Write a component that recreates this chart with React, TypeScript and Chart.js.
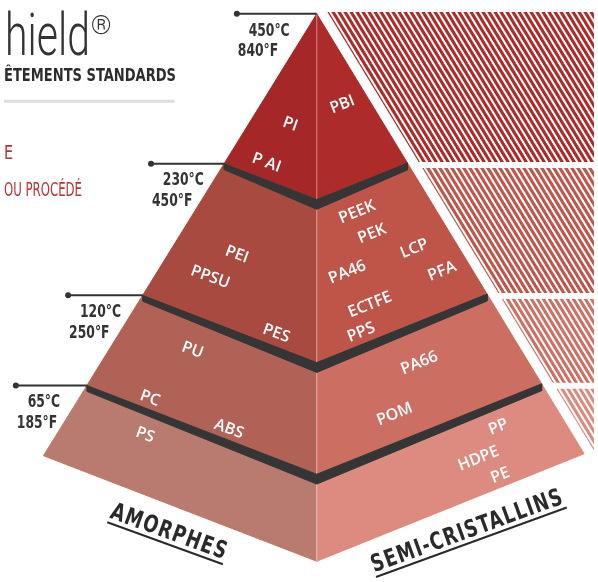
import React, { useEffect, useRef } from "react";
import { Chart, registerables } from "chart.js";
Chart.register(...registerables);

// ---------------- data ----------------
const tempC = ["450°C", "230°C", "120°C", "65°C"];
const tempF = ["840°F", "450°F", "250°F", "185°F"];
const families = ["AMORPHES", "SEMI-CRISTALLINS"];
const amorphes = [["PI", "P AI"], ["PEI", "PPSU", "PES"], ["PU", "PC", "ABS"], ["PS"]];
const semiCristallins = [
  ["PBI"],
  ["PEEK", "PEK", "LCP", "PA46", "PFA", "ECTFE", "PPS"],
  ["PA66", "POM"],
  ["PP", "HDPE", "PE"],
];
const titleWord = "hield";
const subtitle = "ÊTEMENTS STANDARDS";
const sideNotes = ["E", "OU PROCÉDÉ"];

// ---------------- layout ----------------
const TIER_TOP = [0, 0.339, 0.637, 0.841];
const APEX = { x: 317, y: 10 };
const BASE_L = { x: 40, y: 458 };
const BASE_C = { x: 317, y: 565 };
const BASE_R = { x: 588, y: 456 };
const MARKER_X = [236, 149, 65, 12];
const LABEL_POS: Record<string, [number, number]> = {
  PI: [290, 122], "P AI": [266, 161], PEI: [236, 254], PPSU: [209, 277], PES: [276, 334],
  PU: [191, 351], PC: [148, 400], ABS: [228, 431], PS: [143, 437],
  PBI: [343, 102], PEEK: [358, 211], PEK: [373, 233], LCP: [416, 248], PA46: [348, 272],
  PFA: [444, 271], ECTFE: [371, 305], PPS: [362, 333], PA66: [421, 364], POM: [396, 416],
  PP: [501, 429], HDPE: [481, 461], PE: [503, 478],
};
const LEFT_COLORS = ["#A52727", "#A94A40", "#B06256", "#B97A6F"];
const RIGHT_COLORS = ["#AD2B28", "#BF5448", "#CC6F62", "#DD8B80"];
const HATCH_COLORS = ["#AE2B29", "#C0564A", "#CE7064", "#DC8A7F"];
const DARK = "#353535";
const COND = "'Liberation Sans Narrow','DejaVu Sans Condensed',Roboto,sans-serif";

type P = { x: number; y: number };
const lerp = (a: P, b: P, t: number): P => ({ x: a.x + (b.x - a.x) * t, y: a.y + (b.y - a.y) * t });
const pL = (t: number) => lerp(APEX, BASE_L, t);
const pC = (t: number) => lerp(APEX, BASE_C, t);
const pR = (t: number) => lerp(APEX, BASE_R, t);
const down = (p: P, d: number): P => ({ x: p.x, y: p.y + d });

function drawText(ctx: CanvasRenderingContext2D, text: string, x: number, y: number, o: any) {
  ctx.save();
  ctx.font = o.font;
  ctx.fillStyle = o.color;
  ctx.textAlign = o.align || "center";
  ctx.textBaseline = o.baseline || "middle";
  if (o.spacing) (ctx as any).letterSpacing = o.spacing + "px";
  ctx.translate(x, y);
  if (o.angle) ctx.rotate((o.angle * Math.PI) / 180);
  const w = ctx.measureText(text).width;
  const s = o.width ? o.width / w : o.sx || 1;
  ctx.scale(s, 1);
  ctx.fillText(text, 0, 0);
  if (o.underline) {
    const x0 = ctx.textAlign === "center" ? -w / 2 : 0;
    ctx.fillRect(x0, o.underline[0], w, o.underline[1]);
  }
  ctx.restore();
}

export default function App() {
  const ref = useRef<HTMLCanvasElement>(null);
  useEffect(() => {
    document.body.style.margin = "0";
    // stripe tile, slanted parallel to the pyramid's right edge, seamless
    const TH = 79;
    const shift = 48; // multiple of the 6px period over TH rows
    const stripes = (color: string) => {
      const c = document.createElement("canvas");
      c.width = 6;
      c.height = TH;
      const g = c.getContext("2d")!;
      g.fillStyle = color;
      for (let j = -12; j <= 2; j++) {
        const x0 = j * 6;
        g.beginPath();
        g.moveTo(x0, 0);
        g.lineTo(x0 + 3.6, 0);
        g.lineTo(x0 + 3.6 + shift, TH);
        g.lineTo(x0 + shift, TH);
        g.closePath();
        g.fill();
      }
      return g.createPattern(c, "repeat")!;
    };
    const k = (BASE_R.x - APEX.x) / (BASE_R.y - APEX.y);

    const datasets: any[] = [];
    const poly = (pts: P[], color: any, border = true) =>
      datasets.push({
        type: "line",
        data: [...pts, pts[0]].map((p) => ({ x: p.x, y: p.y })),
        fill: "shape",
        backgroundColor: color,
        borderColor: border ? color : "rgba(0,0,0,0)",
        borderWidth: border ? 1 : 0,
        pointRadius: 0,
        tension: 0,
      });

    const levels = [...TIER_TOP, 1];
    // hatched bands to the right
    const gap = 12;
    const xOff = (y: number) => APEX.x + k * (y - APEX.y) + gap;
    for (let i = 0; i < 4; i++) {
      const yTop = i === 0 ? APEX.y - 2 : pR(levels[i]).y + 5;
      if (i < 3) {
        const yBot = pR(levels[i + 1]).y - 1;
        poly([{ x: xOff(yTop), y: yTop }, { x: 598, y: yTop }, { x: 598, y: yBot }, { x: xOff(yBot), y: yBot }], stripes(HATCH_COLORS[i]), false);
      } else {
        const yEnd = APEX.y + (598 - gap - APEX.x) / k;
        poly([{ x: xOff(yTop), y: yTop }, { x: 598, y: yTop }, { x: 598, y: yEnd }], stripes(HATCH_COLORS[i]), false);
      }
    }
    // pyramid faces
    for (let i = 0; i < 4; i++) {
      const t0 = levels[i], t1 = levels[i + 1];
      poly([pL(t0), pC(t0), pC(t1), pL(t1)], LEFT_COLORS[i]);
      poly([pC(t0), pR(t0), pR(t1), pC(t1)], RIGHT_COLORS[i]);
    }
    // central edge highlight
    datasets.push({
      type: "line",
      data: [{ x: APEX.x, y: APEX.y }, { x: BASE_C.x, y: BASE_C.y }],
      borderColor: "rgba(255,255,255,0.18)",
      borderWidth: 1,
      pointRadius: 0,
      fill: false,
    });
    // dark bands at the tier boundaries
    for (let i = 1; i < 4; i++) {
      const t = levels[i];
      poly([pL(t), pC(t), pR(t), down(pR(t), 7), down(pC(t), 10), down(pL(t), 6)], DARK);
    }
    // temperature markers
    for (let i = 0; i < 4; i++) {
      const p = pL(TIER_TOP[i]);
      datasets.push({
        type: "line",
        data: [{ x: MARKER_X[i], y: p.y }, { x: p.x, y: p.y }],
        borderColor: "#333",
        borderWidth: 2,
        pointRadius: [3, 0],
        pointBackgroundColor: "#333",
        pointBorderWidth: 0,
        fill: false,
      });
    }
    // grey rule under the title
    datasets.push({
      type: "line",
      data: [{ x: 0, y: 98.5 }, { x: 173, y: 98.5 }],
      borderColor: "#DEDEDE",
      borderWidth: 3,
      pointRadius: 0,
      fill: false,
    });
    datasets.forEach((d, i) => (d.order = -i));

    const textPlugin = {
      id: "texts",
      afterDatasetsDraw(chart: any) {
        const ctx = chart.ctx as CanvasRenderingContext2D;
        const X = (v: number) => chart.scales.x.getPixelForValue(v);
        const Y = (v: number) => chart.scales.y.getPixelForValue(v);
        // title fragments
        drawText(ctx, titleWord, X(1), Y(52), { font: "300 60px Roboto", color: "#333", align: "left", baseline: "alphabetic", width: 85 });
        drawText(ctx, "®", X(88), Y(30), { font: "300 26px Roboto", color: "#333", align: "left", baseline: "alphabetic" });
        drawText(ctx, subtitle, X(0), Y(78), { font: `bold 18px ${COND}`, color: "#2d2d2d", align: "left", baseline: "alphabetic", width: 172 });
        drawText(ctx, sideNotes[0], X(0), Y(157), { font: `20px ${COND}`, color: "#B83232", align: "left", baseline: "alphabetic", sx: 0.8 });
        drawText(ctx, sideNotes[1], X(0), Y(195), { font: `20px ${COND}`, color: "#B83232", align: "left", baseline: "alphabetic", width: 78 });
        // temperatures (condensed by a common factor)
        const tf = `bold 18px ${COND}`;
        ctx.save();
        ctx.font = tf;
        const sx = 41 / ctx.measureText(tempC[0]).width;
        ctx.restore();
        for (let i = 0; i < 4; i++) {
          const y = pL(TIER_TOP[i]).y;
          drawText(ctx, tempC[i], X(MARKER_X[i] + 12), Y(y + 22), { font: tf, color: "#333", align: "left", baseline: "alphabetic", sx });
          drawText(ctx, tempF[i], X(MARKER_X[i] + 1), Y(y + 43), { font: tf, color: "#333", align: "left", baseline: "alphabetic", sx });
        }
        // polymer labels
        const lab = { font: "600 16px 'Open Sans'", color: "#fff" };
        amorphes.flat().forEach((n) => {
          const [x, y] = LABEL_POS[n];
          drawText(ctx, n, X(x), Y(y), { ...lab, angle: 20 });
        });
        semiCristallins.flat().forEach((n) => {
          const [x, y] = LABEL_POS[n];
          drawText(ctx, n, X(x), Y(y), { ...lab, angle: -22 });
        });
        // family labels
        drawText(ctx, families[0], X(165), Y(542), { font: `bold 24px ${COND}`, color: "#2a2a2a", baseline: "alphabetic", angle: 20, width: 123, spacing: 1.5, underline: [4, 2] });
        drawText(ctx, families[1], X(472), Y(541), { font: `bold 24px ${COND}`, color: "#2a2a2a", baseline: "alphabetic", angle: -20, width: 203, spacing: 1.5, underline: [4, 2] });
      },
    };

    const chart = new Chart(ref.current!, {
      type: "line",
      data: { datasets },
      options: {
        animation: false,
        responsive: true,
        maintainAspectRatio: false,
        devicePixelRatio: 1,
        layout: { padding: 0 },
        scales: {
          x: { type: "linear", min: 0, max: 598, display: false },
          y: { type: "linear", min: 0, max: 582, reverse: true, display: false },
        },
        plugins: { legend: { display: false }, tooltip: { enabled: false } },
      },
      plugins: [textPlugin],
    } as any);
    return () => chart.destroy();
  }, []);
  return (
    <div style={{ width: 598, height: 582, position: "relative" }}>
      <canvas ref={ref} />
    </div>
  );
}
